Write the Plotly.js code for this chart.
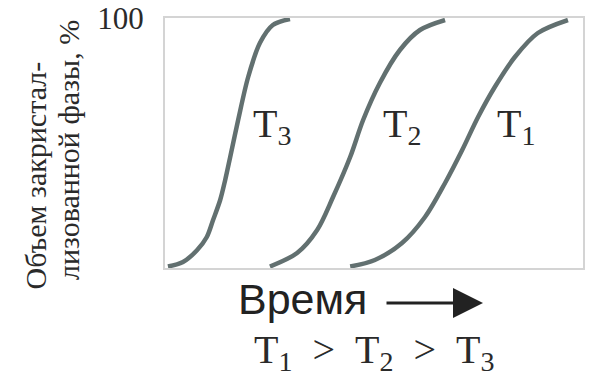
<!DOCTYPE html>
<html>
<head>
<meta charset="utf-8">
<script src="https://cdn.plot.ly/plotly-3.0.1.min.js"></script>
<style>html,body{margin:0;padding:0;background:#fff;}#chart{width:590px;height:381px;}</style>
</head>
<body>
<div id="chart"></div>
<script>
// Crystallised volume (%) vs. time (relative units) for three temperatures
const xT3 = [0.7, 4.3, 7.7, 10.0, 11.5, 13.2, 14.4, 15.6, 17.5, 19.9, 22.7, 25.8, 29.9];
const yT3 = [0.6, 2.4, 7.2, 12.4, 19.2, 27.2, 35.2, 44.4, 59.2, 76.4, 90, 97.2, 99.6];
const xT2 = [25.1, 31.6, 36.4, 40.2, 44.3, 47.4, 51.4, 56.2, 61, 67];
const yT2 = [0.6, 6, 15.2, 28.4, 44.4, 59.2, 74, 87.2, 95.2, 99.2];
const xT1 = [44.3, 50.2, 56.7, 62.2, 67, 71.1, 74.9, 78.9, 83.7, 89.2, 96.4];
const yT1 = [0.6, 3.2, 10, 20.4, 34, 47.2, 60.4, 72.4, 84.4, 94, 99.2];

const curveLabels = ['T<sub>3</sub>', 'T<sub>2</sub>', 'T<sub>1</sub>'];
const labelX = [20.5, 51.7, 78.9];
const labelY = [57, 57, 57];

const yTickVals = [100];
const yTickText = ['100'];
const yTitleLines = ['Объем закристал-', 'лизованной фазы, %'];
const xTitle = 'Время';
const orderText = 'T<sub>1</sub>\u2002>\u2002T<sub>2</sub>\u2002>\u2002T<sub>3</sub>';

const lineColor = 'rgb(98,112,112)';
const mk = (x, y) => ({x: x, y: y, type: 'scatter', mode: 'lines',
  line: {color: lineColor, width: 4.5, shape: 'spline', smoothing: 0.9},
  hoverinfo: 'skip', showlegend: false});

const data = [mk(xT3, yT3), mk(xT2, yT2), mk(xT1, yT1)];

const serif = 'Liberation Serif, Times New Roman, serif';
const sans = 'Liberation Sans, Arial, sans-serif';
const txt = '#2a2a2a';

const annotations = [];
curveLabels.forEach((t, i) => annotations.push({
  x: labelX[i], y: labelY[i], xref: 'x', yref: 'y', text: t, showarrow: false,
  xanchor: 'left', yanchor: 'middle', font: {family: serif, size: 40, color: txt}
}));
annotations.push({x: -0.31, y: 0.372, xref: 'paper', yref: 'paper', text: yTitleLines[0],
  textangle: -90, showarrow: false, xanchor: 'center', yanchor: 'middle',
  font: {family: serif, size: 30, color: txt}});
annotations.push({x: -0.232, y: 0.472, xref: 'paper', yref: 'paper', text: yTitleLines[1],
  textangle: -90, showarrow: false, xanchor: 'center', yanchor: 'middle',
  font: {family: serif, size: 30, color: txt}});
annotations.push({x: (302 - 165) / 418, y: -0.124, xref: 'paper', yref: 'paper', text: xTitle,
  showarrow: false, xanchor: 'center', yanchor: 'middle',
  font: {family: sans, size: 43, color: '#222'}});
annotations.push({x: (483 - 165) / 418, y: -0.14, xref: 'paper', yref: 'paper', text: '',
  showarrow: true, ax: -98, ay: 0, arrowhead: 2, arrowsize: 2, arrowwidth: 3,
  arrowcolor: '#222', standoff: 0});
annotations.push({x: 0.5, y: -0.336, xref: 'paper', yref: 'paper', text: orderText,
  showarrow: false, xanchor: 'center', yanchor: 'middle',
  font: {family: serif, size: 40, color: txt}});

const layout = {
  width: 590, height: 381,
  margin: {l: 165, r: 7, t: 18, b: 113},
  paper_bgcolor: '#fff', plot_bgcolor: '#fff',
  xaxis: {range: [0, 100], showgrid: false, zeroline: false, showticklabels: false,
    ticks: '', showline: true, mirror: true, linecolor: '#d4d4d4', linewidth: 2, fixedrange: true},
  yaxis: {range: [0, 100], showgrid: false, zeroline: false, tickvals: yTickVals, ticktext: yTickText,
    ticks: 'outside', ticklen: 13, tickcolor: 'rgba(0,0,0,0)',
    tickfont: {family: serif, size: 31, color: txt},
    showline: true, mirror: true, linecolor: '#d4d4d4', linewidth: 2, fixedrange: true},
  annotations: annotations
};

Plotly.newPlot('chart', data, layout, {staticPlot: true, displayModeBar: false});
</script>
</body>
</html>
